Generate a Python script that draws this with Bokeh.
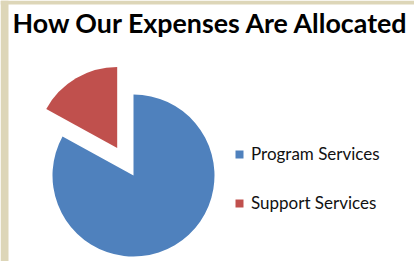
import math
from bokeh.plotting import figure
from bokeh.models import Range1d, Label, Legend, LegendItem, ColumnDataSource, BoxAnnotation
from bokeh.embed import file_html
from bokeh.resources import INLINE

title_text = "How Our Expenses Are Allocated"
categories = ["Program Services", "Support Services"]
values = [83, 17]
colors = ["#4f81bd", "#c0504d"]

W, H = 414, 261
p = figure(width=W, height=H, output_backend="svg", toolbar_location=None,
           x_range=Range1d(0, W), y_range=Range1d(0, H), min_border=0,
           outline_line_color=None)
p.axis.visible = False
p.grid.visible = False

# beige page frame (left and top strips)
beige = "#ddd6b8"
p.add_layout(BoxAnnotation(left=0, right=8, bottom=0, top=H, fill_color=beige,
                           fill_alpha=1, line_color=None))
p.add_layout(BoxAnnotation(left=0, right=W, bottom=H - 4, top=H, fill_color=beige,
                           fill_alpha=1, line_color=None))

# pie geometry (screen-like units)
cx, cy, r, explode = 133, 86, 81, 32
total = sum(values)
sup_frac = values[1] / total
a0 = math.pi / 2
a1 = a0 + 2 * math.pi * sup_frac
a2 = a0 + 2 * math.pi
mid = (a0 + a1) / 2

src = ColumnDataSource(dict(
    x=[cx, cx + explode * math.cos(mid)],
    y=[cy, cy + explode * math.sin(mid)],
    start=[a1, a0],
    end=[a2, a1],
    color=colors,
    label=categories,
))
wr = p.wedge(x="x", y="y", radius=r, start_angle="start", end_angle="end",
             fill_color="color", line_color=None, source=src)

p.add_layout(Label(x=12, y=239, text=title_text, text_font="Lato",
                   text_font_style="bold", text_font_size="26.8px",
                   text_color="#000000", text_baseline="alphabetic"))

legend = Legend(items=[LegendItem(label=categories[i], renderers=[wr], index=i) for i in range(2)],
                location=(234, 48), orientation="vertical",
                glyph_width=10, glyph_height=10, label_height=20,
                label_standoff=7, spacing=28, padding=0, margin=0,
                border_line_alpha=0, background_fill_alpha=0,
                label_text_font="Lato", label_text_font_size="17px",
                label_text_color="#111111")
p.add_layout(legend)

open("out.html", "w").write(file_html(p, INLINE))
